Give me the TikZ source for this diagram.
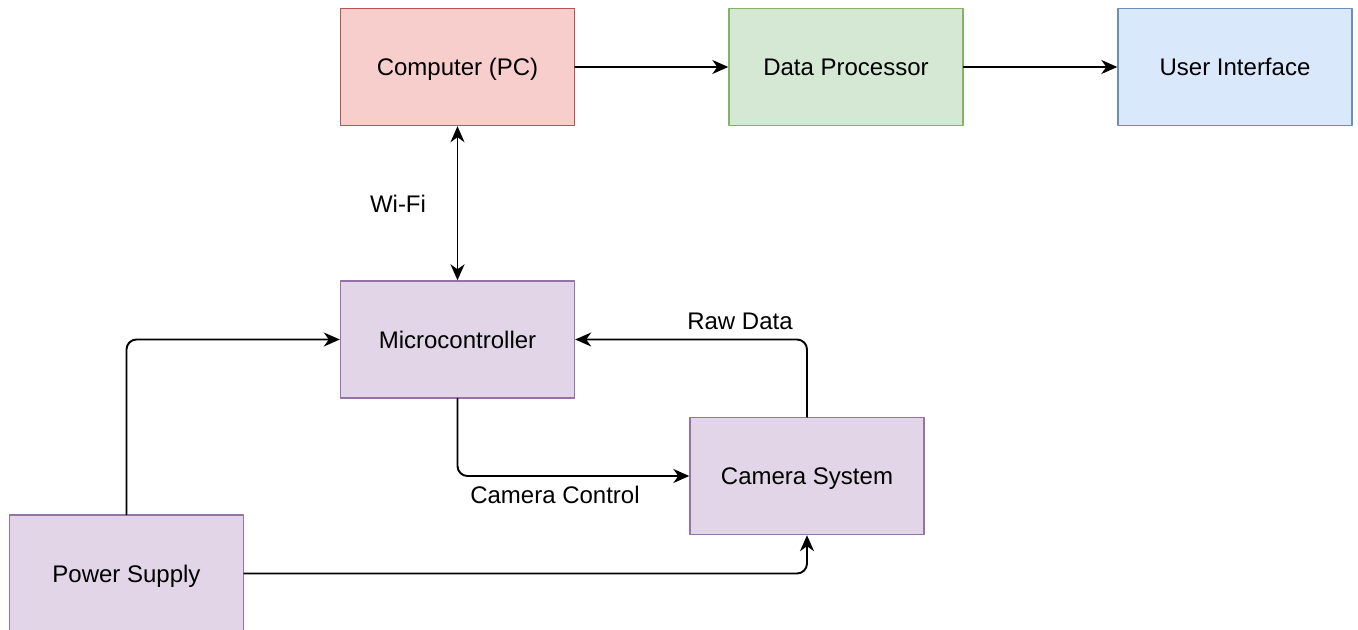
\documentclass[tikz,border=0pt]{standalone}
\usepackage{fontspec}
\setmainfont{Liberation Sans}
\usetikzlibrary{arrows.meta}

\definecolor{redfill}{HTML}{F8CECC}\definecolor{redline}{HTML}{B85450}
\definecolor{greenfill}{HTML}{D5E8D4}\definecolor{greenline}{HTML}{82B366}
\definecolor{bluefill}{HTML}{DAE8FC}\definecolor{blueline}{HTML}{6C8EBF}
\definecolor{purplefill}{HTML}{E1D5E7}\definecolor{purpleline}{HTML}{9673A6}

\begin{document}
\begin{tikzpicture}
      [x=0.5pt,y=-0.5pt,line cap=round,line join=round,
       font=\fontsize{12}{14}\selectfont,
       >={Stealth[length=8pt,width=7pt,inset=2.5pt]},
       block/.style={draw,line width=0.7pt,minimum width=117pt,minimum height=58.5pt,inner sep=0pt,text depth=0pt,text height=8.6pt},
       pcbox/.style={block,fill=redfill,draw=redline},
       procbox/.style={block,fill=greenfill,draw=greenline},
       uibox/.style={block,fill=bluefill,draw=blueline},
       hwbox/.style={block,fill=purplefill,draw=purpleline},
       link/.style={line width=0.95pt,rounded corners=5pt}]

  \useasboundingbox (0,0) rectangle (1358,630);

%top row: software side
  \node[pcbox]   (pc) at (457.5,67) {Computer (PC)};
  \node[procbox] (dp) at (846,67)   {Data Processor};
  \node[uibox]   (ui) at (1235,67)  {User Interface};

%hardware side
  \node[hwbox] (mcu) at (457.5,339.5) {Microcontroller};
  \node[hwbox] (cam) at (807,476)     {Camera System};
  \node[hwbox] (psu) at (126.5,573.5) {Power Supply};

%labels
  \node (wifi)  at (398,204) {Wi-Fi};
  \node (raw)   at (740,321) {Raw Data};
  \node (ctrl)  at (555,495) {Camera Control};

%connections
  \draw[link,->] (pc) -- (dp);
  \draw[link,->] (dp) -- (ui);
  \draw[link,<->] (pc) -- (mcu);
  \draw[link,->] (psu.north) |- (mcu.west);
  \draw[link,->] (mcu.south) |- (cam.west);
  \draw[link,->] (cam.north) |- (mcu.east);
  \draw[link,->] (psu.east) -| (cam.south);

\end{tikzpicture}
\end{document}
